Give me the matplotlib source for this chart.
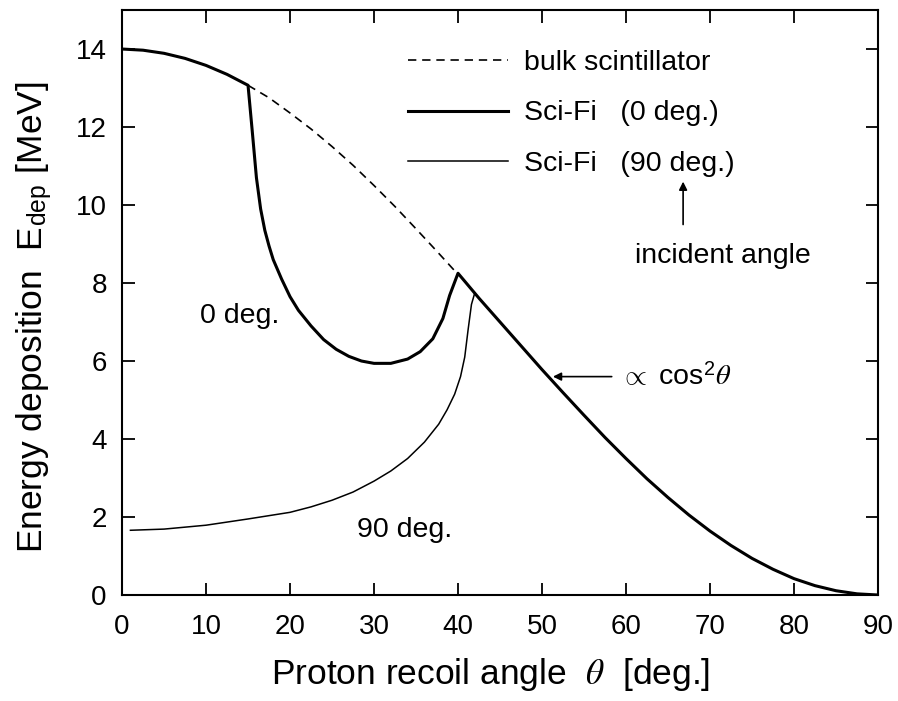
import matplotlib
matplotlib.use('Agg')
import matplotlib.pyplot as plt

plt.rcParams['font.family'] = ['Liberation Sans', 'DejaVu Sans']
plt.rcParams['mathtext.fontset'] = 'custom'
plt.rcParams['mathtext.rm'] = 'Liberation Sans'
plt.rcParams['mathtext.it'] = 'STIXGeneral:italic'
plt.rcParams['mathtext.sf'] = 'Liberation Sans'

# bulk scintillator (only the part that is not covered by the Sci-Fi curve)
theta_bulk = [15, 17.5, 20, 22.5, 25, 27.5, 30, 32.5, 35, 37.5, 40]
e_bulk = [13.07, 12.75, 12.36, 11.95, 11.50, 11.02, 10.50, 9.96, 9.39, 8.81, 8.22]

# Sci-Fi, 0 deg incidence
theta_0 = [0, 2.5, 5, 7.5, 10, 12.5, 15, 15.5, 16, 16.5, 17, 17.5, 18, 19, 20, 21,
           22.5, 24, 25.5, 27, 28.5, 30, 32, 34, 35.5, 37, 38.2, 39, 40, 42.5, 45,
           47.5, 50, 52.5, 55, 57.5, 60, 62.5, 65, 67.5, 70, 72.5, 75, 77.5, 80,
           82.5, 85, 87.5, 90]
e_0 = [14.0, 13.97, 13.89, 13.76, 13.58, 13.35, 13.07, 11.9, 10.7, 9.9, 9.35, 8.95,
       8.6, 8.1, 7.65, 7.3, 6.9, 6.55, 6.3, 6.12, 6.0, 5.94, 5.94, 6.05, 6.24, 6.57,
       7.09, 7.68, 8.25, 7.61, 7.0, 6.39, 5.78, 5.19, 4.61, 4.04, 3.5, 2.98, 2.5,
       2.05, 1.64, 1.27, 0.94, 0.66, 0.42, 0.24, 0.11, 0.03, 0.0]

# Sci-Fi, 90 deg incidence
theta_90 = [1, 5, 10, 15, 20, 22.5, 25, 27.5, 30, 32, 34, 36, 37.7, 38.7, 39.6,
            40.3, 40.8, 41.2, 41.6, 42.0]
e_90 = [1.66, 1.69, 1.79, 1.95, 2.12, 2.26, 2.43, 2.64, 2.92, 3.18, 3.5, 3.92, 4.38,
        4.75, 5.15, 5.6, 6.1, 6.8, 7.45, 7.75]

x_ticks = [0, 10, 20, 30, 40, 50, 60, 70, 80, 90]
y_ticks = [0, 2, 4, 6, 8, 10, 12, 14]

fig = plt.figure(figsize=(8.98, 7.01), dpi=100)
ax = fig.add_axes([0.1359, 0.1512, 0.8418, 0.8345])

l1, = ax.plot(theta_bulk, e_bulk, color='black', lw=1.2, dashes=(5, 3.5))
l3, = ax.plot(theta_90, e_90, color='black', lw=1.1)
l2, = ax.plot(theta_0, e_0, color='black', lw=2.2)

ax.set_xlim(0, 90)
ax.set_ylim(0, 15)
ax.set_xticks(x_ticks)
ax.set_yticks(y_ticks)
ax.tick_params(direction='in', length=9, width=1.3, top=True, right=True,
               labelsize=20)
ax.tick_params(axis='x', pad=14)
ax.tick_params(axis='y', pad=11)
for s in ax.spines.values():
    s.set_linewidth(1.5)

ax.set_xlabel(r'Proton recoil angle  $\theta$  [deg.]', fontsize=25.5)
ax.xaxis.set_label_coords(0.487, -0.105, transform=ax.transAxes)
ax.xaxis.label.set_va('top')
ax.set_ylabel(r'Energy deposition  E$_{\mathrm{dep}}$ [MeV]', fontsize=25.5)
ax.yaxis.set_label_coords(-0.09, 0.475)

ax.legend(handles=[l1, l2, l3],
          labels=['bulk scintillator', 'Sci-Fi   (0 deg.)', 'Sci-Fi   (90 deg.)'],
          loc='upper left', bbox_to_anchor=(0.345, 0.975), frameon=False,
          fontsize=20.5, handlelength=3.5, handletextpad=0.56, labelspacing=0.85)

ax.annotate('', xy=(66.8, 10.6), xytext=(66.8, 9.5),
            arrowprops=dict(arrowstyle='-|>', color='black', lw=1.2,
                            mutation_scale=12, shrinkA=0, shrinkB=0))
ax.text(71.5, 8.7, 'incident angle', fontsize=20.5, ha='center', va='center')

ax.annotate('', xy=(51.3, 5.6), xytext=(58.3, 5.6),
            arrowprops=dict(arrowstyle='-|>', color='black', lw=1.2,
                            mutation_scale=12, shrinkA=0, shrinkB=0))
ax.text(59.3, 5.6, r'$\propto$ cos$^2\theta$', fontsize=20.5, ha='left', va='center')

ax.text(14.0, 7.15, '0 deg.', fontsize=20.5, ha='center', va='center')
ax.text(33.7, 1.66, '90 deg.', fontsize=20.5, ha='center', va='center')

fig.savefig('out.png', dpi=100)
